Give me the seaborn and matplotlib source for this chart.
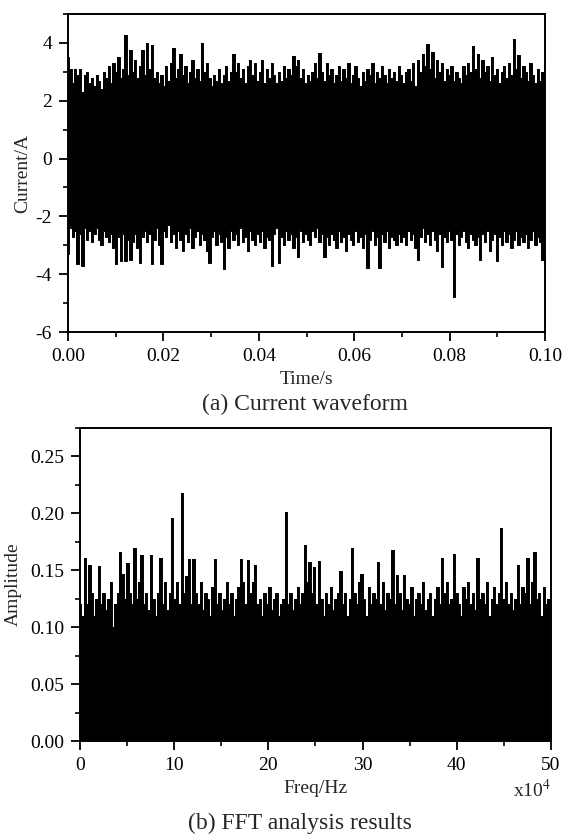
import numpy as np
import pandas as pd
import matplotlib
matplotlib.use("Agg")
import matplotlib.pyplot as plt
from matplotlib.ticker import MultipleLocator
import seaborn as sns

# ---- data (envelope of the current waveform) ----
current_upper = [
    3.5, 3.1, 2.6, 3.1, 2.9, 3.1, 2.3, 2.9, 3.0, 2.6,
    2.8, 2.5, 2.9, 2.7, 2.4, 3.0, 2.8, 3.2, 2.6, 3.3,
    3.0, 3.5, 2.8, 3.1, 4.27, 2.9, 3.77, 3.0, 3.4, 2.8,
    3.2, 3.75, 2.9, 3.98, 3.1, 3.92, 2.8, 3.0, 2.6, 2.9,
    2.5, 3.2, 2.7, 3.3, 3.84, 2.8, 3.1, 3.6, 2.9, 3.2,
    2.6, 3.0, 3.4, 2.8, 3.1, 2.7, 3.98, 3.0, 3.3, 2.8,
    2.5, 2.9, 2.7, 3.1, 2.6, 2.9, 3.2, 2.7, 3.0, 3.61,
    3.0, 3.3, 2.8, 3.1, 2.6, 3.2, 3.4, 2.9, 3.3, 2.7,
    3.0, 3.4, 2.6, 3.1, 2.8, 3.3, 2.9, 2.6, 3.0, 2.7,
    3.2, 2.8, 3.1, 2.9, 3.54, 3.2, 3.4, 2.8, 3.1, 2.6,
    2.9, 2.7, 3.0, 3.3, 2.8, 3.66, 3.0, 2.7, 3.3, 2.9,
    3.1, 2.6, 2.9, 3.2, 2.7, 3.1, 2.8, 3.3, 2.6, 2.9,
    3.2, 2.8, 2.5, 3.0, 2.7, 3.1, 2.9, 3.3, 2.6, 3.0,
    2.8, 3.2, 2.9, 2.6, 3.1, 2.8, 3.0, 2.7, 3.2, 2.9,
    2.6, 3.0, 3.1, 2.7, 3.3, 2.5, 3.4, 3.0, 3.6, 3.2,
    3.96, 3.1, 3.7, 2.8, 3.4, 3.0, 3.3, 2.7, 3.1, 2.9,
    3.2, 2.7, 3.0, 2.8, 2.6, 3.2, 2.9, 3.3, 3.0, 3.9,
    3.1, 3.6, 2.8, 3.4, 3.0, 3.2, 2.7, 3.5, 2.9, 3.1,
    2.6, 3.0, 3.2, 2.8, 3.3, 2.9, 4.15, 3.1, 3.57, 2.8,
    3.2, 3.0, 2.7, 3.3, 2.9, 2.6, 3.1, 2.7, 3.0, 3.4,
]
current_lower = [
    -3.3, -2.4, -2.7, -2.5, -3.65, -2.6, -3.7, -2.4, -2.8, -2.5,
    -2.9, -2.6, -2.4, -2.8, -3.0, -2.5, -2.7, -2.9, -2.6, -3.1,
    -3.65, -2.7, -3.55, -2.6, -3.55, -2.8, -3.5, -2.9, -2.6, -3.1,
    -3.6, -2.7, -2.5, -2.9, -2.6, -3.65, -2.8, -2.4, -3.0, -3.65,
    -2.5, -2.7, -2.3, -2.9, -2.6, -3.1, -2.5, -2.8, -3.2, -2.6,
    -2.9, -2.4, -3.1, -2.7, -2.5, -3.0, -2.6, -2.8, -3.2, -3.6,
    -2.7, -2.5, -3.0, -2.6, -2.9, -3.83, -2.7, -3.1, -2.5, -2.8,
    -2.6, -3.0, -2.4, -2.9, -2.7, -3.2, -2.5, -2.8, -3.0, -2.6,
    -2.9, -2.5, -3.1, -2.7, -2.8, -3.7, -2.6, -2.4, -3.6, -2.7,
    -3.0, -2.5, -2.8, -2.6, -3.1, -2.7, -3.4, -2.5, -2.9, -2.6,
    -2.8, -3.0, -2.5, -2.7, -2.4, -2.9, -2.6, -3.4, -2.7, -3.0,
    -2.6, -2.8, -3.1, -2.5, -2.9, -2.7, -3.2, -2.6, -2.8, -3.0,
    -2.5, -2.9, -2.7, -3.1, -2.6, -3.8, -2.8, -2.5, -3.0, -2.7,
    -3.8, -2.6, -2.9, -2.5, -3.1, -2.7, -2.8, -3.0, -2.6, -2.9,
    -2.7, -3.0, -2.5, -2.8, -2.6, -3.1, -3.5, -2.7, -2.4, -2.9,
    -2.6, -3.0, -2.5, -2.8, -3.2, -2.6, -3.75, -2.7, -2.9, -2.5,
    -2.8, -4.8, -2.6, -3.0, -2.7, -2.5, -2.9, -3.1, -2.6, -2.8,
    -3.0, -2.7, -3.5, -2.6, -2.9, -2.5, -3.2, -2.8, -2.6, -3.55,
    -2.7, -3.0, -2.5, -2.9, -2.6, -3.1, -2.8, -2.5, -3.0, -2.7,
    -2.9, -2.6, -3.1, -2.8, -2.5, -3.0, -2.7, -2.9, -3.5, -2.6,
]
# ---- FFT amplitude (upper edge of the spectrum) ----
fft_amplitude = [
    0.12, 0.11, 0.161, 0.12, 0.155, 0.13, 0.11, 0.125, 0.154, 0.12,
    0.13, 0.115, 0.125, 0.14, 0.10, 0.12, 0.13, 0.166, 0.147, 0.125,
    0.156, 0.13, 0.12, 0.170, 0.125, 0.14, 0.163, 0.12, 0.13, 0.115,
    0.163, 0.125, 0.11, 0.13, 0.161, 0.12, 0.14, 0.115, 0.13, 0.196,
    0.125, 0.14, 0.12, 0.218, 0.13, 0.145, 0.160, 0.12, 0.160, 0.13,
    0.12, 0.14, 0.115, 0.13, 0.125, 0.11, 0.135, 0.160, 0.12, 0.13,
    0.115, 0.125, 0.14, 0.12, 0.13, 0.11, 0.125, 0.135, 0.160, 0.14,
    0.12, 0.159, 0.13, 0.14, 0.155, 0.12, 0.125, 0.11, 0.13, 0.12,
    0.135, 0.115, 0.125, 0.13, 0.11, 0.12, 0.125, 0.201, 0.12, 0.13,
    0.115, 0.125, 0.135, 0.12, 0.13, 0.172, 0.14, 0.157, 0.13, 0.153,
    0.12, 0.158, 0.125, 0.11, 0.13, 0.12, 0.135, 0.115, 0.125, 0.13,
    0.149, 0.12, 0.13, 0.11, 0.125, 0.170, 0.13, 0.12, 0.14, 0.147,
    0.125, 0.11, 0.135, 0.12, 0.13, 0.125, 0.157, 0.12, 0.14, 0.115,
    0.13, 0.125, 0.168, 0.12, 0.146, 0.13, 0.115, 0.146, 0.125, 0.12,
    0.135, 0.11, 0.125, 0.13, 0.12, 0.14, 0.115, 0.125, 0.13, 0.11,
    0.125, 0.135, 0.12, 0.161, 0.13, 0.14, 0.12, 0.125, 0.164, 0.13,
    0.12, 0.11, 0.135, 0.125, 0.14, 0.12, 0.13, 0.115, 0.161, 0.125,
    0.13, 0.12, 0.14, 0.11, 0.125, 0.135, 0.12, 0.13, 0.187, 0.125,
    0.14, 0.12, 0.13, 0.115, 0.125, 0.155, 0.12, 0.135, 0.13, 0.161,
    0.12, 0.14, 0.166, 0.125, 0.13, 0.11, 0.135, 0.12, 0.125, 0.12,
]
time_range = (0.0, 0.1)       # s
freq_range = (0.0, 50.0)      # x10^4 Hz

time_s = np.linspace(time_range[0], time_range[1], len(current_upper))
freq = np.linspace(freq_range[0], freq_range[1], len(fft_amplitude))

wave_df = pd.DataFrame({"t": time_s, "upper": current_upper, "lower": current_lower})
fft_df = pd.DataFrame({"f": freq, "amp": fft_amplitude})

sns.set_style("ticks")
plt.rcParams["font.family"] = ["Liberation Serif", "DejaVu Serif"]
plt.rcParams["mathtext.fontset"] = "stix"

fig = plt.figure(figsize=(5.65, 8.34), dpi=100)
ax1 = fig.add_axes([0.1204, 0.6019, 0.8442, 0.3813])
ax2 = fig.add_axes([0.1416, 0.1115, 0.8336, 0.3753])

lw = 0.7
# waveform panel
ax1.fill_between(wave_df["t"], wave_df["lower"], wave_df["upper"], color="black",
                 lw=0, step="mid")
sns.lineplot(data=wave_df, x="t", y="upper", ax=ax1, color="black", lw=lw,
             estimator=None, drawstyle="steps-mid")
sns.lineplot(data=wave_df, x="t", y="lower", ax=ax1, color="black", lw=lw,
             estimator=None, drawstyle="steps-mid")
ax1.set_xlim(0, 0.1)
ax1.set_ylim(-6, 5)
ax1.xaxis.set_minor_locator(MultipleLocator(0.01))
ax1.yaxis.set_minor_locator(MultipleLocator(1))
ax1.set_xticks([0, 0.02, 0.04, 0.06, 0.08, 0.1])
ax1.set_xticklabels(["0.00", "0.02", "0.04", "0.06", "0.08", "0.10"])
ax1.set_yticks([-6, -4, -2, 0, 2, 4])
ax1.set_yticklabels(["-6", "-4", "-2", "0", "2", "4"])
ax1.set_xlabel("Time/s", fontsize=14, labelpad=4)
ax1.set_ylabel("Current/A", fontsize=14, labelpad=3)

# FFT panel
ax2.fill_between(fft_df["f"], 0, fft_df["amp"], color="black", lw=0, step="mid")
sns.lineplot(data=fft_df, x="f", y="amp", ax=ax2, color="black", lw=lw,
             estimator=None, drawstyle="steps-mid")
ax2.set_xlim(0, 50)
ax2.set_ylim(0, 0.275)
ax2.xaxis.set_minor_locator(MultipleLocator(5))
ax2.yaxis.set_minor_locator(MultipleLocator(0.025))
ax2.set_yticks([0.0, 0.05, 0.10, 0.15, 0.20, 0.25])
ax2.set_yticklabels(["0.00", "0.05", "0.10", "0.15", "0.20", "0.25"])
ax2.set_xticks([0, 10, 20, 30, 40, 50])
ax2.set_xticklabels(["0", "10", "20", "30", "40", "50"])
ax2.set_xlabel("Freq/Hz", fontsize=14, labelpad=4)
ax2.set_ylabel("Amplitude", fontsize=14, labelpad=6)
ax2.text(1.0, -0.12, r"x10$^4$", transform=ax2.transAxes, ha="right", va="top",
         fontsize=14)

for ax in (ax1, ax2):
    for sp in ax.spines.values():
        sp.set_visible(True)
        sp.set_linewidth(1.4)
        sp.set_color("black")
    ax.tick_params(axis="both", which="major", direction="out", length=6.5, width=1.3,
                   labelsize=14, pad=5, colors="black")
    ax.tick_params(axis="both", which="minor", direction="out", length=3.5, width=1.2,
                   colors="black")
    ax.tick_params(top=False, right=False, which="both")

fig.text(0.54, 1 - 404 / 834, "(a) Current waveform", ha="center", va="center", fontsize=17)
fig.text(0.53, 1 - 823 / 834, "(b) FFT analysis results", ha="center", va="center", fontsize=17)

fig.savefig("out.png", dpi=100)
